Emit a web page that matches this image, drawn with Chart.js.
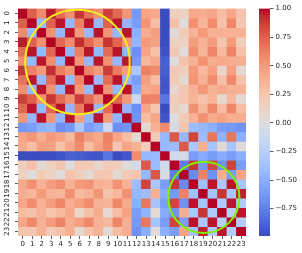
<!DOCTYPE html>
<html>
<head>
<meta charset="utf-8">
<script src="https://cdn.jsdelivr.net/npm/chart.js@4.4.0/dist/chart.umd.min.js"></script>
<style>
  html, body { margin: 0; padding: 0; background: #fff; }
  #wrap { position: relative; width: 302px; height: 253px; }
  #heat { position: absolute; left: 0; top: 0; }
  #bar { position: absolute; left: 250px; top: 0; }
</style>
</head>
<body>
<div id="wrap">
  <canvas id="heat" width="250" height="253"></canvas>
  <canvas id="bar" width="52" height="253"></canvas>
</div>
<script>
const rowLabels = ['0','1','2','3','4','5','6','7','8','9','10','11','12','13','14','15','16','17','18','19','20','21','22','23'];
const colLabels = ['0','1','2','3','4','5','6','7','8','9','10','11','12','13','14','15','16','17','18','19','20','21','22','23'];

// correlation values, row by row
const corr = [
  [1.00, .76, .58, .96, .70, .56, .90, .68, .56, .87, .72, .52, -.62, .45, .42, -.99, .17, .14, .42, .40, .44, .30, .44, .25],
  [.76, 1.00, -.43, .74, .97, -.44, .62, .97, -.43, .75, .97, -.45, -.60, .52, .30, -.99, .28, .02, .55, .35, .57, .26, .59, .23],
  [.58, -.43, 1.00, .55, -.44, .97, .50, -.43, .97, .54, -.45, .97, -.50, .40, .47, -.99, .05, .20, .38, .50, .38, .38, .38, .38],
  [.96, .74, .55, 1.00, .72, .57, .92, .70, .55, .90, .73, .53, -.45, .50, .46, -.99, .16, .14, .48, .38, .48, .24, .49, .19],
  [.70, .97, -.44, .72, 1.00, -.45, .63, .97, -.44, .70, .97, -.46, -.67, .45, .27, -.96, .24, .03, .56, .35, .60, .32, .61, .28],
  [.56, -.44, .97, .57, -.45, 1.00, .52, -.44, .97, .55, -.45, .97, -.63, .33, .42, -.90, .02, .26, .37, .55, .40, .43, .40, .39],
  [.90, .62, .50, .92, .63, .52, 1.00, .60, .50, .88, .64, .48, -.33, .62, .57, -.91, .22, .17, .50, .32, .47, .11, .47, .08],
  [.68, .97, -.43, .70, .97, -.44, .60, 1.00, -.43, .70, .97, -.45, -.60, .48, .30, -.94, .20, .05, .53, .38, .57, .28, .59, .27],
  [.56, -.43, .97, .55, -.44, .97, .50, -.43, 1.00, .54, -.44, .97, -.52, .42, .46, -.95, .10, .23, .38, .52, .38, .41, .38, .38],
  [.87, .75, .54, .90, .70, .55, .88, .70, .54, 1.00, .72, .50, -.12, .62, .60, -.80, .19, .24, .36, .26, .35, .07, .33, .05],
  [.72, .97, -.45, .73, .97, -.45, .64, .97, -.44, .72, 1.00, -.46, -.67, .44, .25, -.99, .17, .06, .54, .34, .59, .30, .60, .30],
  [.52, -.45, .97, .53, -.46, .97, .48, -.45, .97, .50, -.46, 1.00, -.65, .30, .44, -.95, .03, .20, .38, .55, .41, .46, .39, .40],
  [-.62, -.60, -.50, -.45, -.67, -.63, -.33, -.60, -.52, -.12, -.67, -.65, 1.00, .08, .38, .57, -.06, .25, -.40, -.44, -.50, -.60, -.62, -.66],
  [.45, .52, .40, .50, .45, .33, .62, .48, .42, .62, .44, .30, .08, 1.00, .20, -.44, .78, -.44, .85, -.40, .66, -.47, .66, -.50],
  [.42, .30, .47, .46, .27, .42, .57, .30, .46, .60, .25, .44, .38, .20, 1.00, -.42, -.41, .78, -.32, .39, -.35, .06, -.35, .03],
  [-.99, -.99, -.99, -.99, -.96, -.90, -.91, -.94, -.95, -.80, -.99, -.95, .57, -.44, -.42, 1.00, -.10, -.05, -.60, -.52, -.60, -.52, -.60, -.50],
  [.17, .28, .05, .16, .24, .02, .22, .20, .10, .19, .17, .03, -.06, .78, -.41, -.10, 1.00, -.77, .90, -.63, .84, -.66, .85, -.60],
  [.14, .02, .20, .14, .03, .26, .17, .05, .23, .24, .06, .20, .25, -.44, .78, -.05, -.77, 1.00, -.70, .62, -.66, .40, -.60, .45],
  [.42, .55, .38, .48, .56, .37, .50, .53, .38, .36, .54, .38, -.40, .85, -.32, -.60, .90, -.70, 1.00, -.38, .97, -.32, .97, -.36],
  [.40, .35, .50, .38, .35, .55, .32, .38, .52, .26, .34, .55, -.44, -.40, .39, -.52, -.63, .62, -.38, 1.00, -.35, .90, -.33, .95],
  [.44, .57, .38, .48, .60, .40, .47, .57, .38, .35, .59, .41, -.50, .66, -.35, -.60, .84, -.66, .97, -.35, 1.00, -.30, .97, -.30],
  [.30, .26, .38, .24, .32, .43, .11, .28, .41, .07, .30, .46, -.60, -.47, .06, -.52, -.66, .40, -.32, .90, -.30, 1.00, -.25, .97],
  [.44, .59, .38, .49, .61, .40, .47, .59, .38, .33, .60, .39, -.62, .66, -.35, -.60, .85, -.60, .97, -.33, .97, -.25, 1.00, -.28],
  [.25, .23, .38, .19, .28, .39, .08, .27, .38, .05, .30, .40, -.66, -.50, .03, -.50, -.60, .45, -.36, .95, -.30, .97, -.28, 1.00]
];

const cbTicks = [1.00, 0.75, 0.50, 0.25, 0.00, -0.25, -0.50, -0.75];

// highlight circles, centre in (column index, row value) units, radius in cells
const circles = [
  { col: 5.76, row: 5.64, r: 5.5, color: '#f5ee1c' },
  { col: 19.06, row: 19.93, r: 3.75, color: '#80f000' }
];

const vmin = Math.min(...corr.flat());
const vmax = Math.max(...corr.flat());

// matplotlib coolwarm
const coolwarm = [
  [59,76,192],[68,90,204],[77,104,215],[87,117,225],[98,130,234],[108,142,241],[119,154,247],[130,165,251],
  [141,176,254],[152,185,255],[163,194,255],[174,201,253],[184,208,249],[194,213,244],[204,217,238],[213,219,230],
  [221,221,221],[229,216,209],[236,211,197],[241,204,185],[245,196,173],[247,187,160],[247,177,148],[247,166,135],
  [244,154,123],[241,141,111],[236,127,99],[229,112,88],[222,96,77],[213,80,66],[203,62,56],[192,40,47],[180,4,38]
];
function cwAt(t) {
  t = Math.max(0, Math.min(1, t));
  const p = t * (coolwarm.length - 1);
  const i = Math.min(Math.floor(p), coolwarm.length - 2);
  const f = p - i;
  const a = coolwarm[i], b = coolwarm[i + 1];
  return 'rgb(' + [0,1,2].map(k => Math.round(a[k] + (b[k] - a[k]) * f)).join(',') + ')';
}
const colorFor = v => cwAt((v - vmin) / (vmax - vmin));

const font = { family: 'DejaVu Sans', size: 7 };
const textColor = '#262626';

const circlePlugin = {
  id: 'circles',
  afterDatasetsDraw(chart) {
    const { ctx, scales: { x, y } } = chart;
    const cell = x.width / colLabels.length;
    circles.forEach(c => {
      ctx.save();
      ctx.beginPath();
      ctx.arc(x.getPixelForValue(c.col), y.getPixelForValue(c.row), c.r * cell, 0, Math.PI * 2);
      ctx.strokeStyle = c.color;
      ctx.lineWidth = 2;
      ctx.stroke();
      ctx.restore();
    });
  }
};

const datasets = corr.map((row, r) => ({
  data: row.map(() => [r, r + 1]),
  backgroundColor: row.map(colorFor),
  borderWidth: 0,
  inflateAmount: 0.4,
  barPercentage: 1,
  categoryPercentage: 1,
  grouped: false
}));

new Chart(document.getElementById('heat'), {
  type: 'bar',
  data: { labels: colLabels, datasets: datasets },
  options: {
    responsive: false,
    animation: false,
    events: [],
    layout: { padding: { top: 8.6, right: 4, left: 0, bottom: 0 } },
    plugins: { legend: { display: false }, tooltip: { enabled: false } },
    scales: {
      x: {
        type: 'category',
        offset: true,
        afterFit: s => { s.height = 17; },
        ticks: { font, color: textColor, autoSkip: false, minRotation: 0, maxRotation: 0, padding: 1 },
        grid: { offset: false, drawOnChartArea: false, drawTicks: true, tickLength: 3, color: '#333', lineWidth: 0.8 },
        border: { display: false }
      },
      y: {
        type: 'linear',
        reverse: true,
        min: 0,
        max: rowLabels.length,
        afterBuildTicks: s => { s.ticks = rowLabels.map((l, i) => ({ value: i + 0.5 })); },
        afterFit: s => { s.width = 18; },
        ticks: {
          font, color: textColor, autoSkip: false, minRotation: 90, maxRotation: 90,
          crossAlign: 'center', padding: 3,
          callback: v => rowLabels[Math.floor(v)]
        },
        grid: { drawOnChartArea: false, drawTicks: true, tickLength: 3, color: '#333', lineWidth: 0.8 },
        border: { display: false }
      }
    }
  },
  plugins: [circlePlugin]
});

// colour bar
new Chart(document.getElementById('bar'), {
  type: 'bar',
  data: {
    labels: [''],
    datasets: [{
      data: [[vmin, vmax]],
      backgroundColor: ctx => {
        const chart = ctx.chart;
        if (!chart.chartArea) return '#ddd';
        const y = chart.scales.y;
        const g = chart.ctx.createLinearGradient(0, y.getPixelForValue(vmin), 0, y.getPixelForValue(vmax));
        coolwarm.forEach((c, i) => g.addColorStop(i / (coolwarm.length - 1), 'rgb(' + c.join(',') + ')'));
        return g;
      },
      borderWidth: 0,
      barPercentage: 1,
      categoryPercentage: 1
    }]
  },
  options: {
    responsive: false,
    animation: false,
    events: [],
    layout: { padding: { top: 8.6, left: 9, bottom: 17, right: 0 } },
    plugins: { legend: { display: false }, tooltip: { enabled: false } },
    scales: {
      x: { display: false },
      y: {
        position: 'right',
        min: vmin,
        max: vmax,
        afterBuildTicks: s => { s.ticks = cbTicks.map(v => ({ value: v })); },
        afterFit: s => { s.width = 32; },
        ticks: {
          font, color: textColor, padding: 2,
          callback: v => (v < 0 ? '\u2212' : '') + Math.abs(v).toFixed(2)
        },
        grid: { drawOnChartArea: false, drawTicks: true, tickLength: 3.5, color: '#333', lineWidth: 0.8 },
        border: { display: false }
      }
    }
  }
});
</script>
</body>
</html>
